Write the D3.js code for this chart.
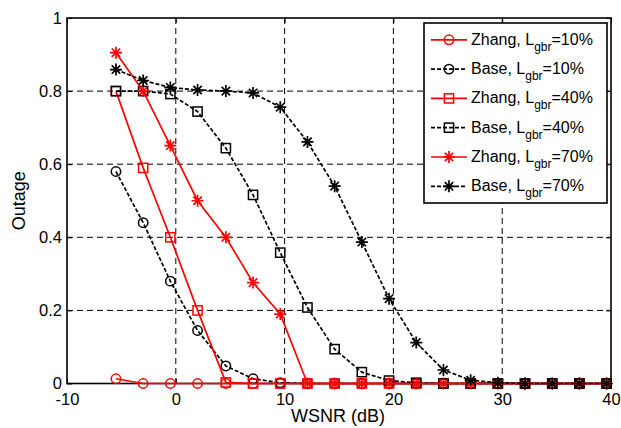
<!DOCTYPE html>
<html>
  <head>
    <meta charset="utf-8">
    <script src="https://d3js.org/d3.v7.min.js"></script>
    <style>
      body { margin: 0; background: #fff; }
      svg { font-family: "Liberation Sans", Arial, sans-serif; }
    </style>
  </head>
  <body>
    <div id="chart"></div>
    <script>
      // data
      var wsnr = [-5.5, -3, -0.5, 2, 4.6, 7.1, 9.6, 12.1, 14.6, 17.1, 19.6, 22.1, 24.6, 27.1, 29.6, 32.1, 34.6, 37.1, 39.6];
      var zhang10 = [0.013, 0, 0, 0, 0, 0, 0, 0, 0, 0, 0, 0, 0, 0, 0, 0, 0, 0, 0];
      var base10 = [0.58, 0.44, 0.28, 0.145, 0.048, 0.013, 0.002, 0, 0, 0, 0, 0, 0, 0, 0, 0, 0, 0, 0];
      var zhang40 = [0.80, 0.59, 0.40, 0.20, 0.003, 0, 0, 0, 0, 0, 0, 0, 0, 0, 0, 0, 0, 0, 0];
      var base40 = [0.80, 0.80, 0.792, 0.744, 0.644, 0.516, 0.358, 0.208, 0.094, 0.031, 0.008, 0.002, 0, 0, 0, 0, 0, 0, 0];
      var zhang70 = [0.905, 0.80, 0.651, 0.50, 0.40, 0.276, 0.19, 0, 0, 0, 0, 0, 0, 0, 0, 0, 0, 0, 0];
      var base70 = [0.859, 0.829, 0.81, 0.803, 0.80, 0.795, 0.756, 0.661, 0.54, 0.387, 0.232, 0.112, 0.037, 0.009, 0.002, 0, 0, 0, 0];
      var xTicks = [-10, 0, 10, 20, 30, 40];
      var yTicks = [0, 0.2, 0.4, 0.6, 0.8, 1];

      var series = [
        {name: 'Zhang', pct: '10%', values: zhang10, color: 'red', dash: null, marker: 'circle'},
        {name: 'Base', pct: '10%', values: base10, color: 'black', dash: '4,2', marker: 'circle'},
        {name: 'Zhang', pct: '40%', values: zhang40, color: 'red', dash: null, marker: 'square'},
        {name: 'Base', pct: '40%', values: base40, color: 'black', dash: '4,2', marker: 'square'},
        {name: 'Zhang', pct: '70%', values: zhang70, color: 'red', dash: null, marker: 'star'},
        {name: 'Base', pct: '70%', values: base70, color: 'black', dash: '4,2', marker: 'star'}
      ];

      var width = 621, height = 428;
      var pLeft = 67, pRight = 611, pTop = 18, pBottom = 383.5;

      var x = d3.scaleLinear().domain([-10, 40]).range([pLeft, pRight]);
      var y = d3.scaleLinear().domain([0, 1]).range([pBottom, pTop]);

      var svg = d3.select('#chart').append('svg')
        .attr('width', width)
        .attr('height', height);

      // grid
      var grid = svg.append('g').attr('class', 'grid');
      grid.selectAll('.gx')
        .data(xTicks.slice(1, -1))
        .enter().append('line')
          .attr('x1', function(d) { return x(d); })
          .attr('x2', function(d) { return x(d); })
          .attr('y1', pTop).attr('y2', pBottom)
          .attr('stroke', 'black')
          .attr('stroke-width', 1)
          .attr('stroke-dasharray', '6,4');
      grid.selectAll('.gy')
        .data(yTicks.slice(1, -1))
        .enter().append('line')
          .attr('y1', function(d) { return y(d); })
          .attr('y2', function(d) { return y(d); })
          .attr('x1', pLeft).attr('x2', pRight)
          .attr('stroke', 'black')
          .attr('stroke-width', 1)
          .attr('stroke-dasharray', '6,4');

      // axes, inward ticks on all four sides
      var fmt = function(d) { return String(d); };
      var xAxis = svg.append('g')
        .attr('transform', 'translate(0,' + pBottom + ')')
        .call(d3.axisBottom(x).tickValues(xTicks).tickSize(-5).tickPadding(10).tickFormat(fmt));
      var xTop = svg.append('g')
        .attr('transform', 'translate(0,' + pTop + ')')
        .call(d3.axisTop(x).tickValues(xTicks).tickSize(-5).tickFormat(''));
      var yAxis = svg.append('g')
        .attr('transform', 'translate(' + pLeft + ',0)')
        .call(d3.axisLeft(y).tickValues(yTicks).tickSize(-5).tickPadding(5).tickFormat(fmt));
      var yRight = svg.append('g')
        .attr('transform', 'translate(' + pRight + ',0)')
        .call(d3.axisRight(y).tickValues(yTicks).tickSize(-5).tickFormat(''));

      [xAxis, xTop, yAxis, yRight].forEach(function(a) {
        a.select('.domain').remove();
        a.selectAll('.tick line').attr('stroke', 'black');
        a.selectAll('text').attr('fill', 'black').style('font-size', '16.5px');
        a.attr('font-family', null).attr('font-size', null);
      });

      svg.append('rect')
        .attr('x', pLeft).attr('y', pTop)
        .attr('width', pRight - pLeft).attr('height', pBottom - pTop)
        .attr('fill', 'none')
        .attr('stroke', 'black')
        .attr('stroke-width', 1.6);

      // axis labels
      svg.append('text')
        .attr('x', 338)
        .attr('y', 422)
        .attr('text-anchor', 'middle')
        .style('font-size', '18px')
        .text('WSNR (dB)');
      svg.append('text')
        .attr('transform', 'translate(25,' + ((pTop + pBottom) / 2) + ') rotate(-90)')
        .attr('text-anchor', 'middle')
        .style('font-size', '18px')
        .text('Outage');

      // markers
      function drawMarker(g, type, cx, cy, color) {
        if (type == 'circle') {
          g.append('circle')
            .attr('cx', cx).attr('cy', cy).attr('r', 4.7)
            .attr('fill', 'none').attr('stroke', color).attr('stroke-width', 1.5);
        } else if (type == 'square') {
          g.append('rect')
            .attr('x', cx - 4.6).attr('y', cy - 4.6)
            .attr('width', 9.2).attr('height', 9.2)
            .attr('fill', 'none').attr('stroke', color).attr('stroke-width', 1.5);
        } else {
          var r = 6;
          var d = 'M' + (cx - r) + ',' + cy + 'H' + (cx + r) +
                  'M' + cx + ',' + (cy - r) + 'V' + (cy + r) +
                  'M' + (cx - r * 0.7) + ',' + (cy - r * 0.7) + 'L' + (cx + r * 0.7) + ',' + (cy + r * 0.7) +
                  'M' + (cx - r * 0.7) + ',' + (cy + r * 0.7) + 'L' + (cx + r * 0.7) + ',' + (cy - r * 0.7);
          g.append('path').attr('d', d)
            .attr('fill', 'none').attr('stroke', color).attr('stroke-width', 1.7);
        }
      }

      var line = d3.line()
        .x(function(d) { return x(d[0]); })
        .y(function(d) { return y(d[1]); });

      var plot = svg.append('g').attr('class', 'series');
      series.forEach(function(s) {
        var pts = wsnr.map(function(v, i) { return [v, s.values[i]]; });
        var g = plot.append('g');
        g.append('path')
          .attr('d', line(pts))
          .attr('fill', 'none')
          .attr('stroke', s.color)
          .attr('stroke-width', 1.7)
          .attr('stroke-dasharray', s.dash);
        pts.forEach(function(p) {
          drawMarker(g, s.marker, x(p[0]), y(p[1]), s.color);
        });
      });

      // legend
      var lx = 424, ly = 23, lw = 183, lh = 180, rowH = 29.3;
      var legend = svg.append('g').attr('class', 'legend');
      legend.append('rect')
        .attr('x', lx).attr('y', ly)
        .attr('width', lw).attr('height', lh)
        .attr('fill', 'white')
        .attr('stroke', 'black')
        .attr('stroke-width', 1.6);
      series.forEach(function(s, i) {
        var cy = ly + 16.8 + i * rowH;
        legend.append('line')
          .attr('x1', lx + 7).attr('x2', lx + 43)
          .attr('y1', cy).attr('y2', cy)
          .attr('stroke', s.color)
          .attr('stroke-width', 1.7)
          .attr('stroke-dasharray', s.dash);
        drawMarker(legend, s.marker, lx + 25, cy, s.color);
        var t = legend.append('text')
          .attr('x', lx + 47)
          .attr('y', cy + 5)
          .style('font-size', '16px');
        t.append('tspan').text(s.name + ', L');
        t.append('tspan').attr('dy', 6).style('font-size', '12px').text('gbr');
        t.append('tspan').attr('dy', -6).text('=' + s.pct);
      });
    </script>
  </body>
</html>
